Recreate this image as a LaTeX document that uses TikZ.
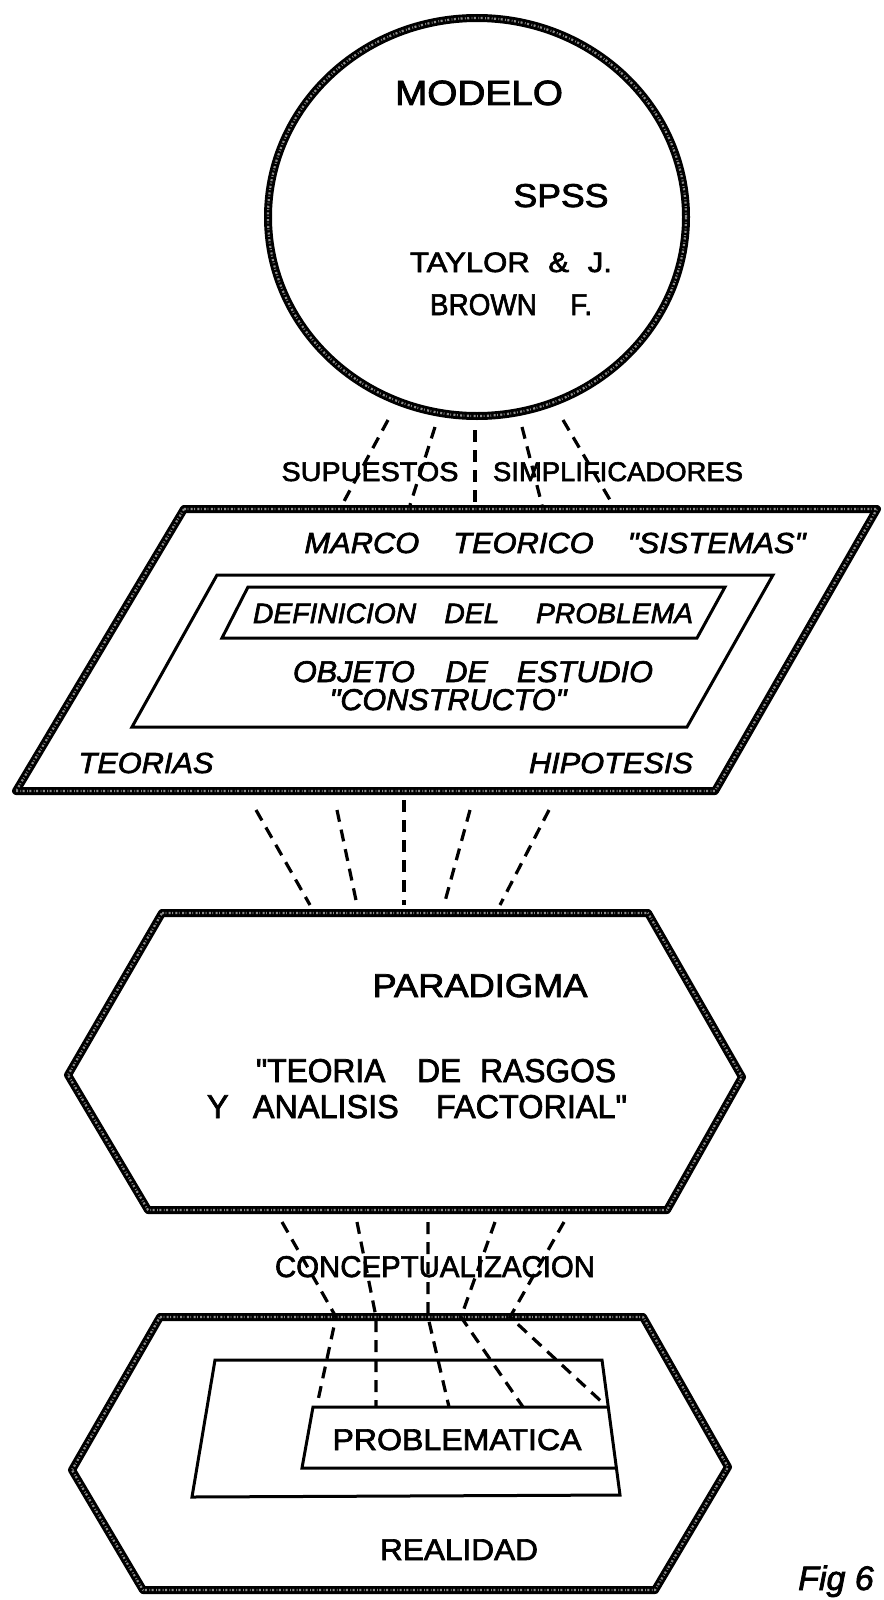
\documentclass[tikz,border=0pt]{standalone}
\usepackage{fontspec}
\usepackage{graphicx}
\newfontfamily\lt{Liberation Sans}[FakeBold=2.2]
\newcommand\fitto[3]{\resizebox{#1pt}{\height}{\fontsize{#2}{#2}\selectfont #3}}
\begin{document}
\begin{tikzpicture}[x=1pt,y=-1pt,
  heavy/.style={line width=8pt, line join=round, draw=black,
    postaction={draw=black!45, line width=2.2pt, dash pattern=on 2pt off 1.5pt on 0.8pt off 2.4pt}},
  thinline/.style={line width=3pt, line join=miter, draw=black},
  dsh/.style={line width=3.2pt, dash pattern=on 12pt off 8pt, draw=black},
  lbl/.style={anchor=base, inner sep=0pt, font=\lt},
  ilbl/.style={anchor=base, inner sep=0pt, font=\lt\itshape}]
\useasboundingbox (0,0) rectangle (883,1600);
\fill[white] (0,0) rectangle (883,1600);

% ---------- circle MODELO ----------
\draw[heavy] (477,217) ellipse [x radius=209pt, y radius=199pt];
\node[lbl] (modelo) at (479,105) {\fitto{168}{35}{MODELO}};
\node[lbl] (spss) at (561,207) {\fitto{95}{33}{SPSS}};
\node[lbl] (taylor) at (511,272) {\fitto{202}{28}{TAYLOR\hspace{0.6em}\&\hspace{0.6em}J.}};
\node[lbl] (brown) at (511,315) {\fitto{162}{30}{BROWN\hspace{1.2em}F.}};

% ---------- parallelogram ----------
\draw[heavy] (184,509) -- (877,509) -- (715,791) -- (16,791) -- cycle;
\draw[thinline] (217,575) -- (773,575) -- (687,727) -- (132,727) -- cycle;
\draw[thinline] (248,587) -- (725,587) -- (697,638) -- (222,638) -- cycle;
\node[ilbl] (marco) at (555,553) {\fitto{501}{29}{MARCO\hspace{1.1em}TEORICO\hspace{1.1em}"SISTEMAS"}};
\node[ilbl] (defin) at (473,623) {\fitto{440}{28}{DEFINICION\hspace{1em}DEL\hspace{1.3em}PROBLEMA}};
\node[ilbl] (objeto) at (473,682) {\fitto{360}{30}{OBJETO\hspace{1em}DE\hspace{0.95em}ESTUDIO}};
\node[ilbl] (constr) at (448,710) {\fitto{237}{30}{"CONSTRUCTO"}};
\node[ilbl] (teorias) at (146,773) {\fitto{135}{29}{TEORIAS}};
\node[ilbl] (hipot) at (611,773) {\fitto{164}{29}{HIPOTESIS}};

% ---------- labels between circle and parallelogram ----------
\node[lbl] (supuestos) at (370,481) {\fitto{177}{27}{SUPUESTOS}};
\node[lbl] (simplif) at (618,481) {\fitto{250}{27}{SIMPLIFICADORES}};

% ---------- hexagon PARADIGMA ----------
\draw[heavy] (162,913) -- (648,913) -- (742,1077) -- (667,1210) -- (148,1210) -- (68,1075) -- cycle;
\node[lbl] (parad) at (480,997) {\fitto{215}{33}{PARADIGMA}};
\node[lbl] (rasgos) at (436,1082) {\fitto{360}{33}{"TEORIA\hspace{1em}DE\hspace{0.6em}RASGOS}};
\node[lbl] (factor) at (417,1118) {\fitto{420}{33}{Y\hspace{0.75em}ANALISIS\hspace{1.15em}FACTORIAL"}};

% ---------- hexagon REALIDAD ----------
\draw[heavy] (160,1317) -- (643,1317) -- (728,1467) -- (655,1590) -- (143,1590) -- (72,1470) -- cycle;
\draw[thinline] (215,1360) -- (602,1360) -- (620,1495) -- (192,1497) -- cycle;
\draw[thinline] (608,1407) -- (313,1407) -- (302,1468) -- (616,1468);
\node[lbl] (probl) at (457,1450) {\fitto{249}{30}{PROBLEMATICA}};
\node[lbl] (realidad) at (459,1560) {\fitto{158}{30}{REALIDAD}};
\node[lbl] (concep) at (435,1277) {\fitto{320}{30}{CONCEPTUALIZACION}};
\node[ilbl, anchor=base west] (fig) at (798,1590) {\fontsize{34}{34}\selectfont Fig 6};

% ---------- dashed connectors: circle -> parallelogram ----------
\coordinate (a1s) at (388,420); \coordinate (a1e) at (342,505);
\coordinate (a2s) at (435,427); \coordinate (a2e) at (410,505);
\coordinate (a3s) at (475,430); \coordinate (a3e) at (475,505);
\coordinate (a4s) at (522,427); \coordinate (a4e) at (542,505);
\coordinate (a5s) at (563,420); \coordinate (a5e) at (613,505);
\foreach \i in {1,...,5} \draw[dsh] (a\i s) -- (a\i e);

% ---------- dashed connectors: parallelogram -> PARADIGMA ----------
\coordinate (b1s) at (256,810); \coordinate (b1e) at (310,905);
\coordinate (b2s) at (337,810); \coordinate (b2e) at (357,905);
\coordinate (b3s) at (404,800); \coordinate (b3e) at (404,905);
\coordinate (b4s) at (470,810); \coordinate (b4e) at (444,905);
\coordinate (b5s) at (549,810); \coordinate (b5e) at (500,905);
\foreach \i in {1,...,5} \draw[dsh] (b\i s) -- (b\i e);

% ---------- dashed connectors: PARADIGMA -> REALIDAD -> PROBLEMATICA ----------
\coordinate (c1s) at (282,1222); \coordinate (c1m) at (336,1317); \coordinate (c1e) at (317,1405);
\coordinate (c2s) at (357,1222); \coordinate (c2m) at (376,1317); \coordinate (c2e) at (376,1407);
\coordinate (c3s) at (428,1222); \coordinate (c3m) at (428,1317); \coordinate (c3e) at (449,1407);
\coordinate (c4s) at (495,1222); \coordinate (c4m) at (461,1317); \coordinate (c4e) at (523,1407);
\coordinate (c5s) at (564,1222); \coordinate (c5m) at (510,1317); \coordinate (c5e) at (603,1403);
\foreach \i in {1,...,5} \draw[dsh] (c\i s) -- (c\i m) -- (c\i e);
\end{tikzpicture}
\end{document}
